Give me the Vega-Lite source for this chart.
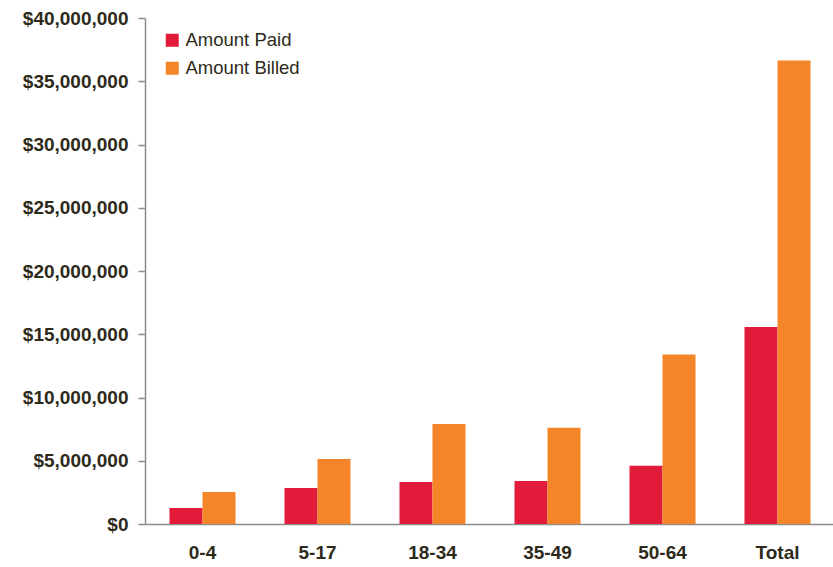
{
  "$schema": "https://vega.github.io/schema/vega-lite/v6.json",
  "width": 690,
  "height": 506,
  "autosize": {"type": "none"},
  "padding": {"left": 145, "top": 18, "right": 0, "bottom": 43},
  "background": "white",
  "data": {
    "values": [
      {"age": "0-4", "series": "Amount Paid", "amount": 1260000},
      {"age": "0-4", "series": "Amount Billed", "amount": 2530000},
      {"age": "5-17", "series": "Amount Paid", "amount": 2850000},
      {"age": "5-17", "series": "Amount Billed", "amount": 5140000},
      {"age": "18-34", "series": "Amount Paid", "amount": 3320000},
      {"age": "18-34", "series": "Amount Billed", "amount": 7900000},
      {"age": "35-49", "series": "Amount Paid", "amount": 3400000},
      {"age": "35-49", "series": "Amount Billed", "amount": 7600000},
      {"age": "50-64", "series": "Amount Paid", "amount": 4600000},
      {"age": "50-64", "series": "Amount Billed", "amount": 13400000},
      {"age": "Total", "series": "Amount Paid", "amount": 15570000},
      {"age": "Total", "series": "Amount Billed", "amount": 36650000}
    ]
  },
  "mark": {"type": "bar"},
  "encoding": {
    "x": {
      "field": "age",
      "type": "nominal",
      "sort": ["0-4", "5-17", "18-34", "35-49", "50-64", "Total"],
      "scale": {"paddingInner": 0.426, "paddingOuter": 0.213},
      "axis": {
        "title": null,
        "labelAngle": 0,
        "ticks": false,
        "labelPadding": 19,
        "labelFontSize": 19,
        "labelFontWeight": "bold",
        "labelFont": "Liberation Sans",
        "labelColor": "#2e2a1a",
        "domainColor": "#8c8c8c",
        "domainWidth": 1.5
      }
    },
    "xOffset": {
      "field": "series",
      "sort": ["Amount Paid", "Amount Billed"]
    },
    "y": {
      "field": "amount",
      "type": "quantitative",
      "scale": {"domain": [0, 40000000]},
      "axis": {
        "title": null,
        "grid": false,
        "values": [0, 5000000, 10000000, 15000000, 20000000, 25000000, 30000000, 35000000, 40000000],
        "format": "$,.0f",
        "labelOverlap": false,
        "labelBound": false,
        "labelFlush": false,
        "tickSize": 7,
        "tickColor": "#8c8c8c",
        "tickWidth": 1.5,
        "labelPadding": 10,
        "labelFontSize": 19,
        "labelFontWeight": "bold",
        "labelFont": "Liberation Sans",
        "labelColor": "#2e2a1a",
        "domainColor": "#8c8c8c",
        "domainWidth": 1.5
      }
    },
    "color": {
      "field": "series",
      "type": "nominal",
      "sort": ["Amount Paid", "Amount Billed"],
      "scale": {
        "domain": ["Amount Paid", "Amount Billed"],
        "range": ["#e31b3b", "#f58529"]
      },
      "legend": {
        "title": null,
        "orient": "none",
        "legendX": 18,
        "legendY": 13,
        "padding": 0,
        "symbolType": "square",
        "symbolSize": 169,
        "symbolStrokeWidth": 0,
        "symbolOpacity": 1,
        "labelFontSize": 18.5,
        "labelFont": "Liberation Sans",
        "labelColor": "#2e2a1a",
        "labelOffset": 4,
        "rowPadding": 9
      }
    }
  },
  "config": {
    "view": {"stroke": "transparent"}
  }
}
